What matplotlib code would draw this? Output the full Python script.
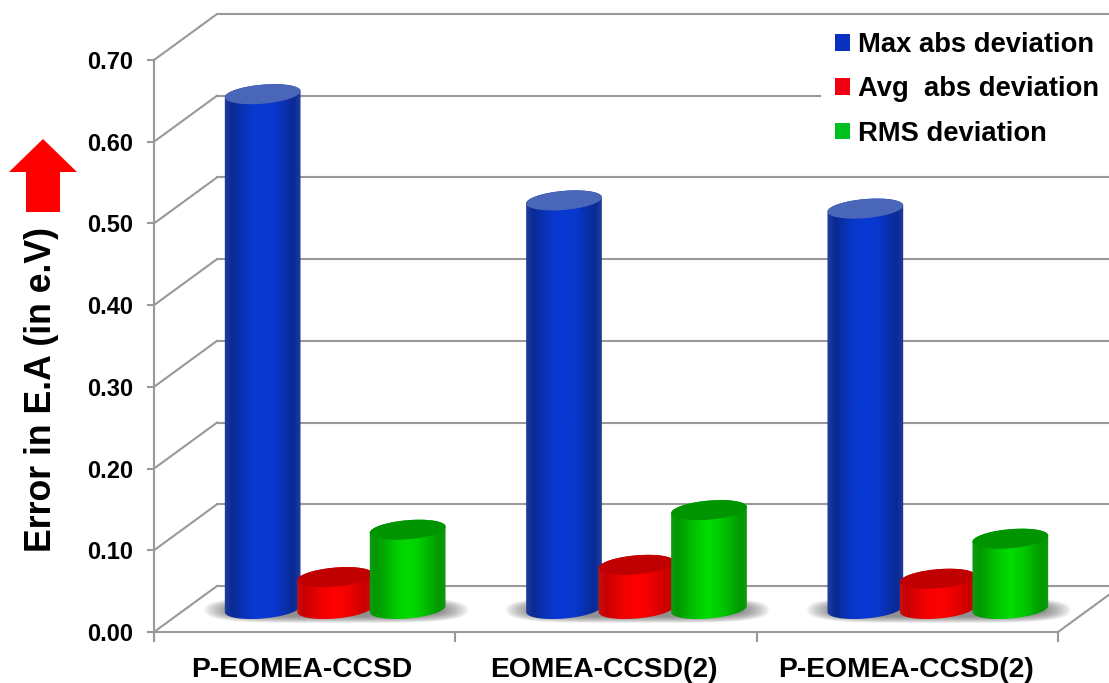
import matplotlib
matplotlib.use('Agg')
import matplotlib.pyplot as plt
import numpy as np
from matplotlib.colors import LinearSegmentedColormap
from matplotlib.patches import Patch, Polygon, Rectangle


categories = ['P-EOMEA-CCSD', 'EOMEA-CCSD(2)', 'P-EOMEA-CCSD(2)']
series_names = ['Max abs deviation', 'Avg  abs deviation', 'RMS deviation']
max_abs = [0.63, 0.50, 0.49]
avg_abs = [0.039, 0.054, 0.037]
rms_dev = [0.097, 0.121, 0.086]
y_ticks = [0.00, 0.10, 0.20, 0.30, 0.40, 0.50, 0.60, 0.70]
y_label = 'Error in E.A (in e.V)'

WIDTH, HEIGHT = 1109, 683
LEFT, RIGHT, BOTTOM, TOP = 154, 1058, 632, 60
GRID = '#999999'
FONT = 'Liberation Sans'

# pixels per data unit on both axes
X_SCALE = (RIGHT - LEFT) / 3
Y_SCALE = (BOTTOM - TOP) / 0.7
DEPTH_X = 63 / X_SCALE
DEPTH_Y = 46 / Y_SCALE

BAR_SHIFT_X = 30.5 / X_SCALE
BAR_SHIFT_Y = 23 / Y_SCALE
BAR_STEP = 72.5 / X_SCALE
SEMI_A = 38
SEMI_B = 9.5
TILT = np.radians(5)

BAR_STYLES = [
    (['#22409c', '#0a2a94', '#0838cc', '#0838d4', '#0838cc', '#0a2a94', '#22409c'], '#4a66b8'),
    (['#c81010', '#c80000', '#f40000', '#ff0000', '#f40000', '#c80000', '#c81010'], '#c00000'),
    (['#109a10', '#009800', '#00cc00', '#00dc00', '#00cc00', '#009800', '#109a10'], '#009400'),
]
STOP_POSITIONS = [0, 0.1, 0.35, 0.5, 0.65, 0.9, 1]
LEGEND_COLORS = ['#0a30c0', '#f00010', '#00c020']


def ellipse_points(cx, cy, t):
    # tilted disc seen from above, rising towards the right
    px = SEMI_A * np.cos(t) * np.cos(TILT) - SEMI_B * np.sin(t) * np.sin(TILT)
    py = SEMI_A * np.cos(t) * np.sin(TILT) + SEMI_B * np.sin(t) * np.cos(TILT)
    return np.column_stack((cx + px / X_SCALE, cy + py / Y_SCALE))


def draw_walls(ax):
    for tick in y_ticks:
        ax.plot([0, DEPTH_X], [tick, tick + DEPTH_Y], color=GRID, lw=1.5, clip_on=False, zorder=1)
        ax.plot([DEPTH_X, 3 + DEPTH_X], [tick + DEPTH_Y] * 2, color=GRID, lw=1.5, clip_on=False, zorder=1)
    ax.plot([3, 3 + DEPTH_X], [0, DEPTH_Y], color=GRID, lw=1.5, clip_on=False, zorder=1)


def draw_shadow(ax, cx, cy):
    # soft grey pool on the floor, built up from stacked translucent discs
    t = np.linspace(0, 2 * np.pi, 120)
    for grow in np.linspace(1.0, 0.8, 16):
        sx = np.sign(np.cos(t)) * np.abs(np.cos(t)) ** 0.45 * 132 * grow / X_SCALE
        sy = np.sign(np.sin(t)) * np.abs(np.sin(t)) ** 0.8 * 13 * (grow * 2.5 - 1.5) / Y_SCALE
        ax.add_patch(Polygon(np.column_stack((cx + sx, cy + sy)), closed=True, facecolor='#555555',
                             edgecolor='none', alpha=0.06, clip_on=False, zorder=2))


def draw_cylinder(ax, cx, value, stops, top_color, zorder):
    base = BAR_SHIFT_Y
    top = base + value
    lower = ellipse_points(cx, base, np.linspace(np.pi, 2 * np.pi, 60))
    upper = ellipse_points(cx, top, np.linspace(0, np.pi, 60))
    body = Polygon(np.vstack((lower, upper)), closed=True, facecolor='none', edgecolor='none',
                   transform=ax.transData, clip_on=False)
    ax.add_patch(body)

    half = SEMI_A / X_SCALE * 1.02
    cmap = LinearSegmentedColormap.from_list('bar', list(zip(STOP_POSITIONS, stops)))
    gradient = np.linspace(0, 1, 128).reshape(1, -1)
    im = ax.imshow(gradient, cmap=cmap, aspect='auto', zorder=zorder,
                   extent=(cx - half, cx + half, base - 0.03, top + 0.03))
    im.set_clip_path(body)

    cap = ellipse_points(cx, top, np.linspace(0, 2 * np.pi, 120))
    ax.add_patch(Polygon(cap, closed=True, facecolor=top_color, edgecolor='none',
                         clip_on=False, zorder=zorder + 0.1))


def main():
    plt.rcParams['font.family'] = [FONT, 'DejaVu Sans']
    fig = plt.figure(figsize=(WIDTH / 100, HEIGHT / 100), dpi=100)
    ax = fig.add_axes([LEFT / WIDTH, 1 - BOTTOM / HEIGHT, (RIGHT - LEFT) / WIDTH, (BOTTOM - TOP) / HEIGHT])

    draw_walls(ax)

    values = [max_abs, avg_abs, rms_dev]
    for group in range(len(categories)):
        centre = group + 0.5 + BAR_SHIFT_X
        draw_shadow(ax, centre + 1 / X_SCALE, BAR_SHIFT_Y - 1 / Y_SCALE)
        for i, series in enumerate(values):
            stops, top_color = BAR_STYLES[i]
            draw_cylinder(ax, centre + (i - 1) * BAR_STEP, series[group], stops, top_color, 3 + i + group)

    ax.set_xlim(0, 3)
    ax.set_ylim(0, 0.7)
    ax.patch.set_visible(False)
    for side in ('top', 'right'):
        ax.spines[side].set_visible(False)
    for side in ('left', 'bottom'):
        ax.spines[side].set_color(GRID)
        ax.spines[side].set_linewidth(1.5)

    ax.set_yticks(y_ticks)
    ax.set_yticklabels([f'{t:.2f}' for t in y_ticks], fontsize=17, fontweight='bold')
    ax.tick_params(axis='y', length=5, width=1.5, color=GRID, pad=10)
    ax.set_xticks([0, 1, 2, 3])
    ax.set_xticklabels([])
    ax.tick_params(axis='x', length=7, width=1.5, color=GRID)
    label_offsets = [-3 / X_SCALE, -2 / X_SCALE, -1 / X_SCALE]
    for group, name in enumerate(categories):
        ax.text(group + 0.5 + label_offsets[group], -0.047, name, ha='center', va='center',
                fontsize=20.3, fontweight='bold', clip_on=False)

    # overlay in pixel coordinates for the arrow, legend panel and axis title
    overlay = fig.add_axes([0, 0, 1, 1], zorder=20)
    overlay.set_xlim(0, WIDTH)
    overlay.set_ylim(HEIGHT, 0)
    overlay.axis('off')
    overlay.add_patch(Rectangle((821, 28), 288, 138, facecolor='white', edgecolor='none'))
    overlay.add_patch(Polygon([(43, 139), (77, 172), (60, 172), (60, 212), (26, 212), (26, 172), (9, 172)],
                              closed=True, facecolor='#ff0000', edgecolor='none'))
    overlay.text(42, 390, y_label, rotation=90, ha='center', va='center', fontsize=25.7, fontweight='bold')

    handles = [Patch(facecolor=c, edgecolor='none') for c in LEGEND_COLORS]
    overlay.legend(handles, series_names, loc='upper left', bbox_to_anchor=(835 / WIDTH, 1 - 32 / HEIGHT),
                   bbox_transform=fig.transFigure, frameon=False, borderpad=0, borderaxespad=0,
                   handlelength=0.55, handleheight=0.55, handletextpad=0.3, labelspacing=0.67,
                   prop={'size': 19.7, 'weight': 'bold'})

    fig.savefig('out.png', dpi=100)


if __name__ == '__main__':
    main()
